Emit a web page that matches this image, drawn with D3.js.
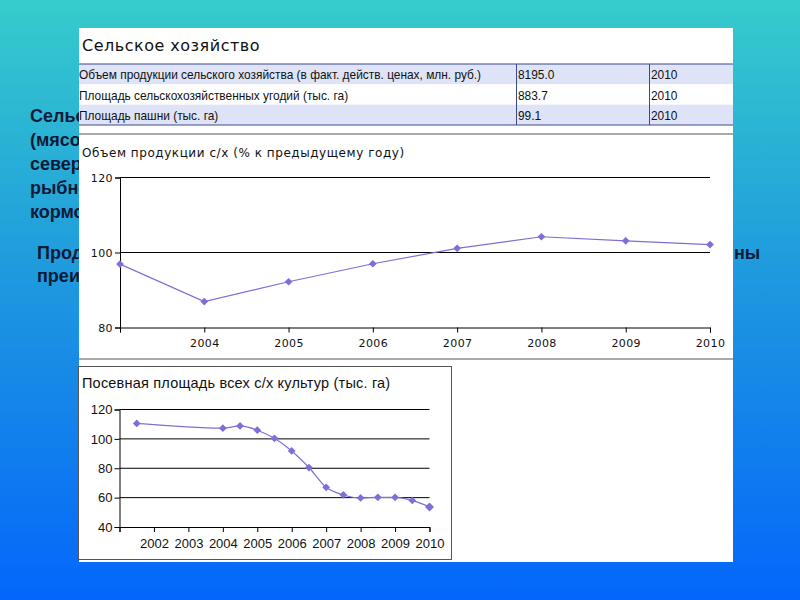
<!DOCTYPE html>
<html>
<head>
<meta charset="utf-8">
<script src="https://cdn.jsdelivr.net/npm/d3@7"></script>
<style>
  body { margin: 0; padding: 0; overflow: hidden; }
</style>
</head>
<body>
<script>
// slide: agriculture table + two small charts

var tableRows = [
    "Объем продукции сельского хозяйства (в факт. действ. ценах, млн. руб.)",
    "Площадь сельскохозяйственных угодий (тыс. га)",
    "Площадь пашни (тыс. га)"
];
var tableValues = ["8195.0", "883.7", "99.1"];
var tableYears = ["2010", "2010", "2010"];

// chart 1: production, % to previous year
var years1 = [2003, 2004, 2005, 2006, 2007, 2008, 2009, 2010];
var values1 = [96.9, 86.9, 92.2, 97.0, 101.1, 104.2, 103.1, 102.1];
var yTicks1 = [80, 100, 120];
var xLabels1 = [2004, 2005, 2006, 2007, 2008, 2009, 2010];

// chart 2: sown area, thousand ha
var years2 = [2001.5, 2004, 2004.5, 2005, 2005.5, 2006, 2006.5, 2007, 2007.5, 2008, 2008.5, 2009, 2009.5, 2010];
var values2 = [110.5, 107.3, 108.8, 105.9, 100.4, 91.8, 80.5, 67.0, 61.8, 59.8, 60.2, 60.2, 58.1, 53.6];
var yTicks2 = [40, 60, 80, 100, 120];
var xTicks2 = [2001, 2002, 2003, 2004, 2005, 2006, 2007, 2008, 2009, 2010];
var xLabels2 = [2002, 2003, 2004, 2005, 2006, 2007, 2008, 2009, 2010];

// slide text showing from under the panels (only the visible bits)
var textLeft = ["Сельс", "(мясо", "север", "рыбно", "кормо"];
var textLeft2 = ["Прод", "преим"];

var width = 800;
var height = 600;
var lineColor = "#7b70d8";

var graphics = d3.select("body").append("svg")
    .attr("width", width)
    .attr("height", height);

var defs = graphics.append("defs");
var grad = defs.append("linearGradient")
    .attr("id", "bg")
    .attr("x1", 0).attr("y1", 0)
    .attr("x2", 0).attr("y2", 1);
grad.append("stop").attr("offset", "0%").attr("stop-color", "#36cccc");
grad.append("stop").attr("offset", "45%").attr("stop-color", "#1f9ade");
grad.append("stop").attr("offset", "100%").attr("stop-color", "#0466fb");

defs.append("clipPath").attr("id", "outside")
    .append("path")
    .attr("d", "M0,0H79V600H0Z M733,0H800V600H733Z");

graphics.append("rect")
    .attr("width", width)
    .attr("height", height)
    .attr("fill", "url(#bg)");

// background text
var bgText = graphics.append("g")
    .attr("clip-path", "url(#outside)")
    .attr("font-family", "Liberation Sans, Arial, sans-serif")
    .attr("font-weight", "bold")
    .attr("font-size", 18)
    .attr("fill", "#0c1a38");

bgText.selectAll("text.l1")
    .data(textLeft)
    .enter().append("text")
    .attr("x", 30)
    .attr("y", function(d, i) { return 122 + i * 24; })
    .text(function(d) { return d; });

bgText.selectAll("text.l2")
    .data(textLeft2)
    .enter().append("text")
    .attr("x", 37)
    .attr("y", function(d, i) { return 259 + i * 23; })
    .text(function(d) { return d; });

bgText.append("text")
    .attr("x", 734)
    .attr("y", 259)
    .text("ны");

// white panel
graphics.append("rect")
    .attr("x", 79)
    .attr("y", 28)
    .attr("width", 654)
    .attr("height", 534)
    .attr("fill", "#ffffff");

// table
graphics.append("text")
    .attr("x", 82)
    .attr("y", 51)
    .attr("font-family", "DejaVu Sans, sans-serif")
    .attr("font-size", 16)
    .attr("letter-spacing", 0.5)
    .attr("fill", "#111")
    .text("Сельское хозяйство");

var rowY = d3.scaleBand().domain(d3.range(tableRows.length)).range([64, 125]);

graphics.selectAll("rect.row")
    .data(tableRows)
    .enter().append("rect")
    .attr("x", 79)
    .attr("y", function(d, i) { return rowY(i); })
    .attr("width", 654)
    .attr("height", rowY.bandwidth())
    .attr("fill", function(d, i) { return i % 2 == 0 ? "#dfe3f7" : "#ffffff"; });

var cols = [79, 518, 651];
var tableCells = [tableRows, tableValues, tableYears];
tableCells.forEach(function(col, c) {
    graphics.selectAll("text.c" + c)
        .data(col)
        .enter().append("text")
        .attr("x", cols[c])
        .attr("y", function(d, i) { return rowY(i) + rowY.bandwidth() - 5; })
        .attr("font-family", "Liberation Sans, Arial, sans-serif")
        .attr("font-size", 11.9)
        .attr("fill", "#111")
        .text(function(d) { return d; });
});

[64, 125].forEach(function(y) {
    graphics.append("line")
        .attr("x1", 79).attr("x2", 733)
        .attr("y1", y).attr("y2", y)
        .attr("stroke", "#3a4a8a");
});
[516.5, 649.5].forEach(function(x) {
    graphics.append("line")
        .attr("x1", x).attr("x2", x)
        .attr("y1", 64).attr("y2", 125)
        .attr("stroke", "#3a4a8a");
});
[134, 359].forEach(function(y) {
    graphics.append("line")
        .attr("x1", 79).attr("x2", 733)
        .attr("y1", y).attr("y2", y)
        .attr("stroke", "#555");
});

// chart 1
graphics.append("text")
    .attr("x", 82)
    .attr("y", 157)
    .attr("font-family", "DejaVu Sans, sans-serif")
    .attr("font-size", 12)
    .attr("letter-spacing", 0.55)
    .attr("fill", "#111")
    .text("Объем продукции с/х (% к предыдущему году)");

var x1 = d3.scaleLinear().domain([2003, 2010]).range([120, 710]);
var y1 = d3.scaleLinear().domain([80, 120]).range([327.5, 177.5]);

var c1 = graphics.append("g");

c1.selectAll("line.grid")
    .data(yTicks1.slice(1))
    .enter().append("line")
    .attr("x1", x1(2003)).attr("x2", x1(2010))
    .attr("y1", function(d) { return y1(d); })
    .attr("y2", function(d) { return y1(d); })
    .attr("stroke", "#000");

var yAxis1 = c1.append("g")
    .attr("transform", "translate(" + x1(2003) + ",0)")
    .call(d3.axisLeft(y1).tickValues(yTicks1).tickSize(5).tickPadding(2));

var xAxis1 = c1.append("g")
    .attr("transform", "translate(0," + y1(80) + ")")
    .call(d3.axisBottom(x1).tickValues(years1).tickSize(5).tickPadding(7)
        .tickFormat(function(d) { return xLabels1.indexOf(d) >= 0 ? d : ""; }));

[yAxis1, xAxis1].forEach(function(a) {
    a.selectAll("text").attr("font-size", 11).attr("fill", "#111")
        .attr("letter-spacing", 0.4).attr("font-family", "DejaVu Sans, sans-serif");
    a.selectAll("line, path").attr("stroke", "#000");
});

c1.append("path")
    .datum(values1)
    .attr("fill", "none")
    .attr("stroke", lineColor)
    .attr("stroke-width", 1.2)
    .attr("d", d3.line()
        .x(function(d, i) { return x1(years1[i]); })
        .y(function(d) { return y1(d); }));

var marker = d3.symbol().type(d3.symbolSquare);

c1.selectAll("path.mark")
    .data(values1)
    .enter().append("path")
    .attr("transform", function(d, i) { return "translate(" + x1(years1[i]) + "," + y1(d) + ") rotate(45)"; })
    .attr("d", marker.size(30)())
    .attr("fill", lineColor);

// chart 2
graphics.append("rect")
    .attr("x", 78.5)
    .attr("y", 366.5)
    .attr("width", 373)
    .attr("height", 193)
    .attr("fill", "#fff")
    .attr("stroke", "#555");

graphics.append("text")
    .attr("x", 82)
    .attr("y", 388)
    .attr("font-family", "Liberation Sans, Arial, sans-serif")
    .attr("font-size", 14.5)
    .attr("letter-spacing", 0.2)
    .attr("fill", "#111")
    .text("Посевная площадь всех с/х культур (тыс. га)");

var x2 = d3.scaleLinear().domain([2001, 2010]).range([119.5, 429.5]);
var y2 = d3.scaleLinear().domain([40, 120]).range([527, 409.5]);

var c2 = graphics.append("g");

c2.selectAll("line.grid")
    .data(yTicks2.slice(1))
    .enter().append("line")
    .attr("x1", x2(2001)).attr("x2", x2(2010))
    .attr("y1", function(d) { return y2(d); })
    .attr("y2", function(d) { return y2(d); })
    .attr("stroke", "#000");

var yAxis2 = c2.append("g")
    .attr("transform", "translate(" + x2(2001) + ",0)")
    .call(d3.axisLeft(y2).tickValues(yTicks2).tickSize(5).tickPadding(2));

var xAxis2 = c2.append("g")
    .attr("transform", "translate(0," + y2(40) + ")")
    .call(d3.axisBottom(x2).tickValues(xTicks2).tickSize(5).tickPadding(7)
        .tickFormat(function(d) { return xLabels2.indexOf(d) >= 0 ? d : ""; }));

[yAxis2, xAxis2].forEach(function(a) {
    a.selectAll("text").attr("font-size", 13).attr("fill", "#111").attr("font-family", "Liberation Sans, Arial, sans-serif");
    a.selectAll("line, path").attr("stroke", "#000");
});

c2.append("path")
    .datum(values2)
    .attr("fill", "none")
    .attr("stroke", lineColor)
    .attr("stroke-width", 1.2)
    .attr("d", d3.line()
        .curve(d3.curveMonotoneX)
        .x(function(d, i) { return x2(years2[i]); })
        .y(function(d) { return y2(d); }));

c2.selectAll("path.mark")
    .data(values2)
    .enter().append("path")
    .attr("transform", function(d, i) { return "translate(" + x2(years2[i]) + "," + y2(d) + ") rotate(45)"; })
    .attr("d", function(d, i) { return marker.size(i == values2.length - 1 ? 40 : 30)(); })
    .attr("fill", lineColor);
</script>
</body>
</html>
